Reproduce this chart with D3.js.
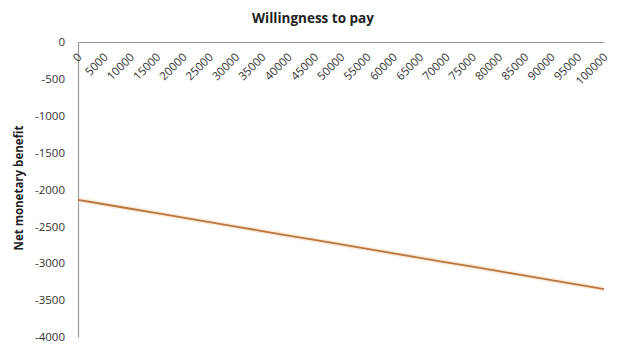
<!DOCTYPE html>
<html>
<head>
<meta charset="utf-8">
<script src="https://cdn.jsdelivr.net/npm/d3@7"></script>
<style>
  html, body { margin: 0; padding: 0; background: #fff; }
  svg { display: block; }
  text { font-family: "Open Sans", "Liberation Sans", sans-serif; }
</style>
</head>
<body>
<svg id="chart" width="618" height="350"></svg>
<script>
// Willingness-to-pay thresholds (category axis)
const wtp = [0, 5000, 10000, 15000, 20000, 25000, 30000, 35000, 40000, 45000,
             50000, 55000, 60000, 65000, 70000, 75000, 80000, 85000, 90000, 95000, 100000];
// Net monetary benefit at each threshold
const nmb = [-2140, -2200, -2261, -2321, -2382, -2442, -2503, -2563, -2624, -2684,
             -2745, -2805, -2866, -2926, -2987, -3047, -3108, -3168, -3229, -3289, -3350];
// Value axis ticks
const yTicks = [0, -500, -1000, -1500, -2000, -2500, -3000, -3500, -4000];

const title = "Willingness to pay";
const yTitle = "Net monetary benefit";

const svg = d3.select("#chart");
const plotLeft = 78, plotRight = 604, plotTop = 42, plotBottom = 337;

const x = d3.scalePoint().domain(wtp).range([plotLeft, plotRight]);
const y = d3.scaleLinear().domain([-4000, 0]).range([plotBottom, plotTop]);

// Plain hyphen-minus, as in spreadsheet number formats
const fmt = d => String(d);

// Title
svg.append("text")
  .attr("x", 313).attr("y", 23)
  .attr("text-anchor", "middle")
  .attr("font-size", 13.5).attr("font-weight", "bold")
  .attr("fill", "#222")
  .text(title);

// Y axis title
svg.append("text")
  .attr("transform", `translate(23,188) rotate(-90)`)
  .attr("text-anchor", "middle")
  .attr("font-size", 11.5).attr("font-weight", "bold")
  .attr("fill", "#222")
  .text(yTitle);

// Y axis (no tick marks, labels only)
const yAxis = svg.append("g")
  .attr("transform", `translate(${plotLeft},0)`)
  .call(d3.axisLeft(y).tickValues(yTicks).tickSize(0).tickPadding(13).tickFormat(fmt));
yAxis.select(".domain").attr("stroke", "#9a9a9a").attr("stroke-width", 1.2);
yAxis.selectAll("text")
  .attr("font-size", 11.5).attr("fill", "#333")
  .attr("font-family", "'Open Sans', 'Liberation Sans', sans-serif");

// X axis along the zero line, labels rotated
const xAxis = svg.append("g")
  .attr("transform", `translate(0,${y(0)})`)
  .call(d3.axisBottom(x).tickSize(0).tickFormat(fmt));
xAxis.select(".domain").attr("stroke", "#9a9a9a").attr("stroke-width", 1.2);
xAxis.selectAll(".tick text")
  .attr("font-size", 11.5).attr("fill", "#333")
  .attr("font-family", "'Open Sans', 'Liberation Sans', sans-serif")
  .attr("text-anchor", "end")
  .attr("x", 0).attr("y", 0).attr("dy", "0.35em")
  .attr("transform", "translate(1,13) rotate(-45)");

// Series line
const line = d3.line()
  .x((d, i) => x(wtp[i]))
  .y(d => y(d));

svg.append("path")
  .datum(nmb)
  .attr("fill", "none")
  .attr("stroke", "#f5c89a")
  .attr("stroke-opacity", 0.35)
  .attr("stroke-width", 5)
  .attr("d", line);

svg.append("path")
  .datum(nmb)
  .attr("fill", "none")
  .attr("stroke", "#b87640")
  .attr("stroke-width", 1.8)
  .attr("d", line);
</script>
</body>
</html>
